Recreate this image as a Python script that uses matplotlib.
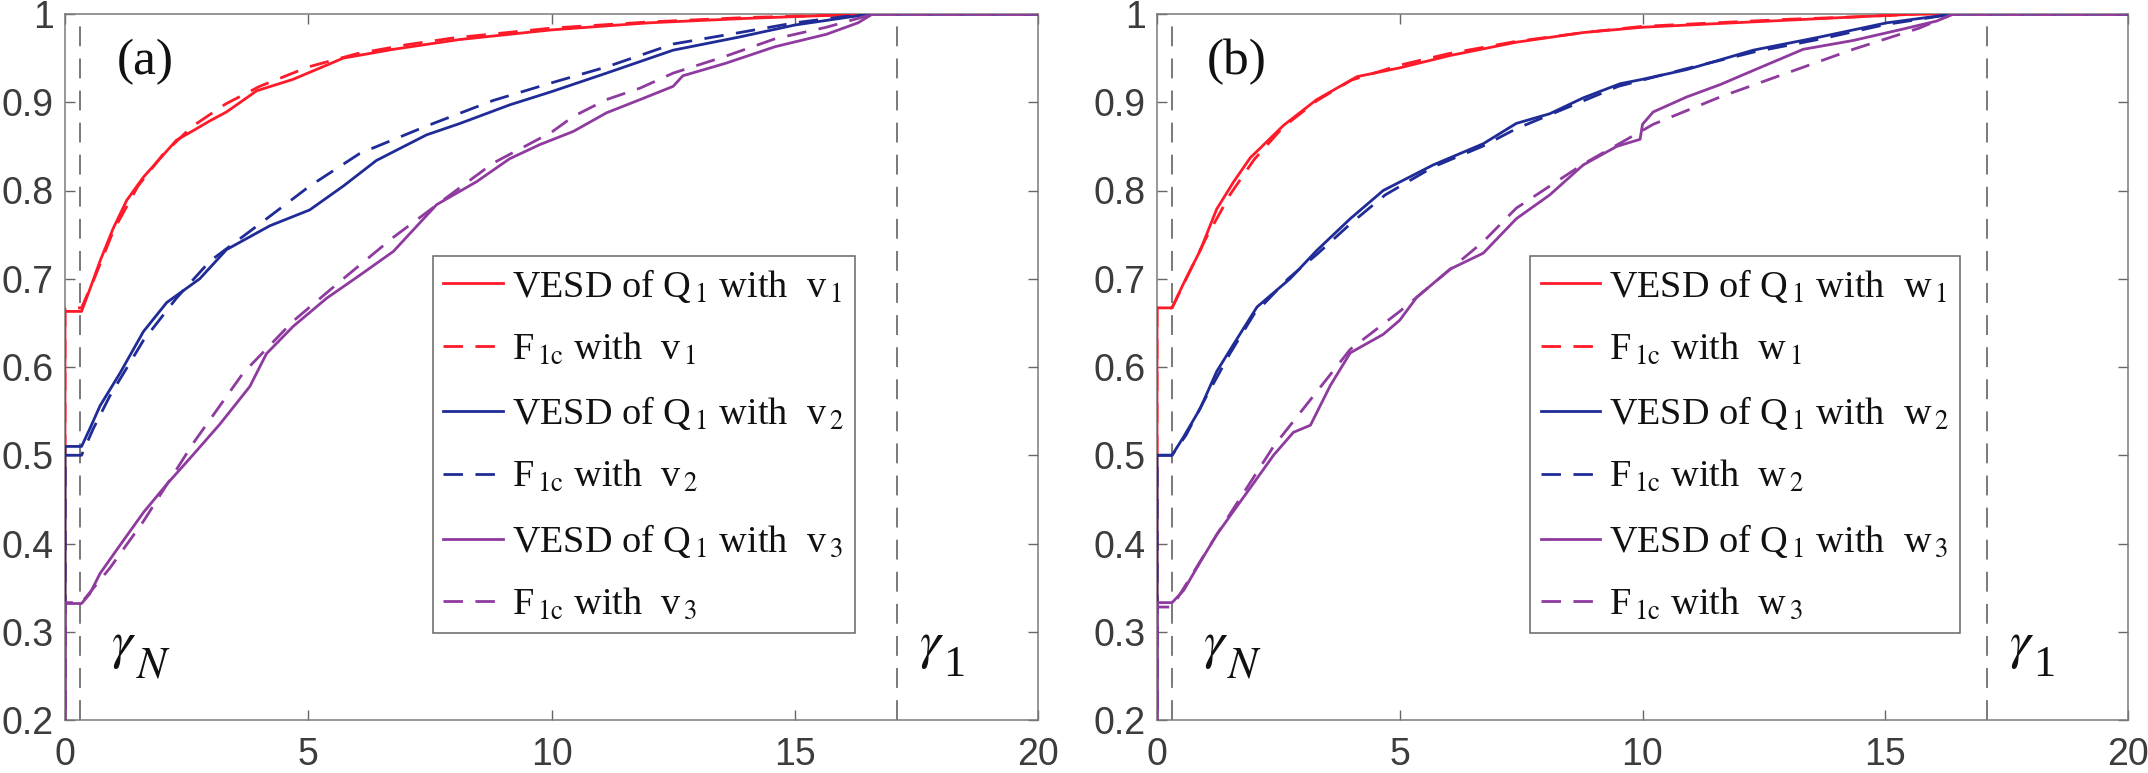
import matplotlib
matplotlib.use("Agg")
import matplotlib.pyplot as plt

plt.rcParams['mathtext.fontset'] = 'stix'

# ---------------- data : panel (a) ----------------
a_red_s_x = [0, 0, 0.34, 0.51, 0.72, 0.99, 1.27, 1.61, 1.95, 2.29, 2.64, 2.98, 3.32, 3.94, 4.69, 5.72, 6.75, 8.1, 10, 12, 14, 15, 16, 16.6, 20]
a_red_s_y = [0, 0.663, 0.663, 0.688, 0.72, 0.757, 0.789, 0.815, 0.836, 0.857, 0.868, 0.879, 0.889, 0.913, 0.926, 0.95, 0.96, 0.971, 0.982, 0.99, 0.995, 0.997, 0.999, 1, 1]
a_red_d_x = [0, 0, 0.34, 0.6, 1.0, 1.5, 2.0, 2.6, 3.3, 4.0, 5.0, 6.0, 7.0, 8.0, 10, 12, 14, 16, 16.6, 20]
a_red_d_y = [0, 0.667, 0.667, 0.70, 0.755, 0.805, 0.84, 0.872, 0.898, 0.918, 0.94, 0.955, 0.965, 0.973, 0.984, 0.991, 0.996, 0.999, 1, 1]

a_blue_s_x = [0, 0, 0.34, 0.51, 0.72, 1.13, 1.61, 2.09, 2.77, 3.32, 4.21, 5.03, 5.72, 6.4, 7.43, 8.12, 9.14, 10, 11.13, 12.5, 13.87, 15, 15.93, 16.55, 20]
a_blue_s_y = [0, 0.51, 0.51, 0.53, 0.556, 0.593, 0.64, 0.673, 0.70, 0.733, 0.76, 0.778, 0.805, 0.834, 0.863, 0.876, 0.897, 0.912, 0.933, 0.959, 0.974, 0.9875, 0.995, 1, 1]
a_blue_d_x = [0, 0, 0.34, 0.58, 0.92, 1.61, 2.29, 2.98, 4.0, 5.03, 6.06, 7.43, 8.8, 10, 11.13, 12.5, 13.87, 15, 16, 16.55, 20]
a_blue_d_y = [0, 0.50, 0.50, 0.53, 0.567, 0.63, 0.678, 0.72, 0.762, 0.805, 0.842, 0.873, 0.902, 0.922, 0.94, 0.966, 0.979, 0.99, 0.997, 1, 1]

a_purp_s_x = [0, 0, 0.34, 0.51, 0.72, 1.13, 1.61, 2.09, 2.64, 3.18, 3.8, 4.14, 4.69, 5.38, 6.06, 6.75, 7.64, 8.46, 9.14, 9.76, 10.45, 11.13, 11.82, 12.5, 12.7, 13.57, 14.6, 15.65, 16.3, 16.6, 20]
a_purp_s_y = [0, 0.332, 0.332, 0.343, 0.366, 0.398, 0.435, 0.467, 0.501, 0.535, 0.578, 0.615, 0.646, 0.678, 0.704, 0.731, 0.784, 0.81, 0.836, 0.852, 0.867, 0.888, 0.903, 0.918, 0.93, 0.944, 0.963, 0.977, 0.99, 1, 1]
a_purp_d_x = [0, 0, 0.34, 0.92, 1.61, 2.64, 3.66, 4.69, 5.72, 6.75, 7.77, 8.8, 10, 10.45, 11.13, 11.82, 12.5, 13.57, 14.6, 15.65, 16.3, 16.6, 20]
a_purp_d_y = [0, 0.333, 0.333, 0.372, 0.425, 0.514, 0.593, 0.652, 0.70, 0.747, 0.789, 0.831, 0.866, 0.884, 0.903, 0.916, 0.933, 0.952, 0.972, 0.985, 0.995, 1, 1]

# ---------------- data : panel (b) ----------------
b_red_s_x = [0, 0, 0.31, 0.55, 0.89, 1.23, 1.58, 1.92, 2.61, 3.29, 4.12, 5.0, 6.04, 7.4, 8.78, 10, 11.5, 13, 14.5, 15.7, 20]
b_red_s_y = [0, 0.667, 0.667, 0.695, 0.732, 0.779, 0.81, 0.837, 0.874, 0.903, 0.929, 0.939, 0.953, 0.968, 0.979, 0.985, 0.989, 0.993, 0.997, 1, 1]
b_red_d_x = [0, 0, 0.31, 0.6, 1.0, 1.5, 2.0, 2.6, 3.3, 4.0, 5.0, 6.0, 7.4, 8.8, 10, 11.5, 13, 14.5, 15.7, 20]
b_red_d_y = [0, 0.667, 0.667, 0.70, 0.745, 0.795, 0.835, 0.872, 0.902, 0.925, 0.942, 0.955, 0.969, 0.979, 0.986, 0.99, 0.994, 0.997, 1, 1]

b_blue_s_x = [0, 0, 0.31, 0.55, 0.89, 1.23, 1.58, 2.06, 2.74, 3.29, 3.98, 4.66, 5.69, 6.72, 7.4, 8.09, 8.78, 9.54, 10, 10.91, 12.28, 13.66, 15.03, 16.4, 20]
b_blue_s_y = [0, 0.5, 0.5, 0.521, 0.553, 0.595, 0.626, 0.668, 0.70, 0.732, 0.768, 0.80, 0.829, 0.853, 0.876, 0.887, 0.905, 0.921, 0.926, 0.937, 0.959, 0.974, 0.99, 1, 1]
b_blue_d_x = [0, 0, 0.31, 0.6, 1.0, 1.5, 2.0, 2.7, 3.3, 4.0, 4.7, 5.7, 6.7, 7.4, 8.1, 8.8, 9.5, 10.9, 12.3, 13.7, 15.0, 16.4, 20]
b_blue_d_y = [0, 0.5, 0.5, 0.523, 0.565, 0.615, 0.66, 0.70, 0.728, 0.763, 0.795, 0.827, 0.85, 0.87, 0.886, 0.902, 0.918, 0.938, 0.957, 0.972, 0.988, 1, 1]

b_purp_s_x = [0, 0, 0.31, 0.55, 0.89, 1.23, 1.58, 1.92, 2.4, 2.81, 3.16, 3.57, 3.98, 4.66, 5.0, 5.35, 6.04, 6.72, 7.4, 8.09, 8.78, 9.47, 9.95, 10.0, 10.22, 10.91, 11.6, 12.28, 13.31, 14.34, 15.37, 16.06, 16.4, 20]
b_purp_s_y = [0, 0.333, 0.333, 0.347, 0.379, 0.41, 0.437, 0.463, 0.50, 0.526, 0.534, 0.579, 0.616, 0.637, 0.653, 0.679, 0.711, 0.729, 0.768, 0.795, 0.829, 0.85, 0.858, 0.875, 0.889, 0.906, 0.92, 0.936, 0.96, 0.97, 0.983, 0.992, 1, 1]
b_purp_d_x = [0, 0, 0.31, 1.23, 2.4, 3.98, 5.0, 6.72, 7.4, 8.78, 10, 10.22, 11.6, 12.97, 14.34, 15.7, 16.4, 20]
b_purp_d_y = [0, 0.328, 0.328, 0.41, 0.51, 0.62, 0.663, 0.742, 0.78, 0.83, 0.868, 0.875, 0.906, 0.933, 0.96, 0.984, 1, 1]

gamma_N = 0.31
gamma_1 = 17.1

x_ticks = [0, 5, 10, 15, 20]
x_ticklabels = ['0', '5', '10', '15', '20']
y_ticks = [0.2, 0.3, 0.4, 0.5, 0.6, 0.7, 0.8, 0.9, 1.0]
y_ticklabels = ['0.2', '0.3', '0.4', '0.5', '0.6', '0.7', '0.8', '0.9', '1']

panel_labels = ['(a)', '(b)']
vec_names = ['v', 'w']

RED = '#FF1A2A'
BLUE = '#1F2B96'
PURP = '#8E3A9E'
GRAY = '#555555'
TXT = '#111111'

fig = plt.figure(figsize=(21.48, 7.73), dpi=100)
ax_a = fig.add_axes([65/2148, 53/773, 973/2148, 706/773])
ax_b = fig.add_axes([1157/2148, 53/773, 971/2148, 706/773])

panels = [
    (ax_a, [(a_red_s_x, a_red_s_y, a_red_d_x, a_red_d_y, RED),
            (a_blue_s_x, a_blue_s_y, a_blue_d_x, a_blue_d_y, BLUE),
            (a_purp_s_x, a_purp_s_y, a_purp_d_x, a_purp_d_y, PURP)], 0.378),
    (ax_b, [(b_red_s_x, b_red_s_y, b_red_d_x, b_red_d_y, RED),
            (b_blue_s_x, b_blue_s_y, b_blue_d_x, b_blue_d_y, BLUE),
            (b_purp_s_x, b_purp_s_y, b_purp_d_x, b_purp_d_y, PURP)], 0.384),
]

for pi, (ax, series, leg_x) in enumerate(panels):
    vn = vec_names[pi]
    handles = []
    labels = []
    for k, (sx, sy, dx, dy, col) in enumerate(series):
        hs, = ax.plot(sx, sy, '-', color=col, lw=2.0, zorder=3)
        hd, = ax.plot(dx, dy, '--', color=col, lw=2.0, dashes=(7, 4.5), zorder=3)
        handles += [hs, hd]
        labels += [r'VESD of Q$_{\,1}$ with  %s$_{\,%d}$' % (vn, k + 1),
                   r'F$_{\,1\mathrm{c}}$ with  %s$_{\,%d}$' % (vn, k + 1)]
    ax.axvline(gamma_N, color=GRAY, lw=1.1, dashes=(13, 8), zorder=2)
    ax.axvline(gamma_1, color=GRAY, lw=1.1, dashes=(13, 8), zorder=2)

    ax.set_xlim(0, 20)
    ax.set_ylim(0.2, 1.0)
    ax.set_xticks(x_ticks)
    ax.set_xticklabels(x_ticklabels)
    ax.set_yticks(y_ticks)
    ax.set_yticklabels(y_ticklabels)
    ax.tick_params(direction='in', length=7, width=1, color='#666666',
                   top=True, right=True, labelsize=27, labelcolor='#3c3c3c')
    ax.tick_params(axis='x', pad=12)
    ax.tick_params(axis='y', pad=8)
    for lab in ax.get_xticklabels() + ax.get_yticklabels():
        lab.set_fontfamily('Liberation Sans')
    for sp in ax.spines.values():
        sp.set_color('#7a7a7a')
        sp.set_linewidth(1.1)

    ax.text(1.64, 0.946, panel_labels[pi], fontsize=37, family='Liberation Serif',
            ha='center', va='center', color=TXT)
    # gamma_N
    ax.text(0.95, 0.285, r'$\gamma$', fontsize=38, ha='left', va='center', color=TXT)
    ax.text(1.45, 0.262, r'$N$', fontsize=32, ha='left', va='center', color=TXT)
    # gamma_1
    ax.text(gamma_1 + 0.45, 0.285, r'$\gamma$', fontsize=38, ha='left', va='center', color=TXT)
    ax.text(gamma_1 + 0.95, 0.262, '1', fontsize=32, family='Liberation Serif',
            ha='left', va='center', color=TXT)

    leg = ax.legend(handles, labels, loc='upper left', bbox_to_anchor=(leg_x, 0.657),
                    borderaxespad=0, fancybox=False, framealpha=1, edgecolor='#666666',
                    prop={'family': 'Liberation Serif', 'size': 27.5},
                    handlelength=1.55, handletextpad=0.25, labelspacing=0.7,
                    borderpad=0.28)
    leg.get_frame().set_linewidth(1.1)
    for t in leg.get_texts():
        t.set_color(TXT)

fig.savefig('out.png', dpi=100)
